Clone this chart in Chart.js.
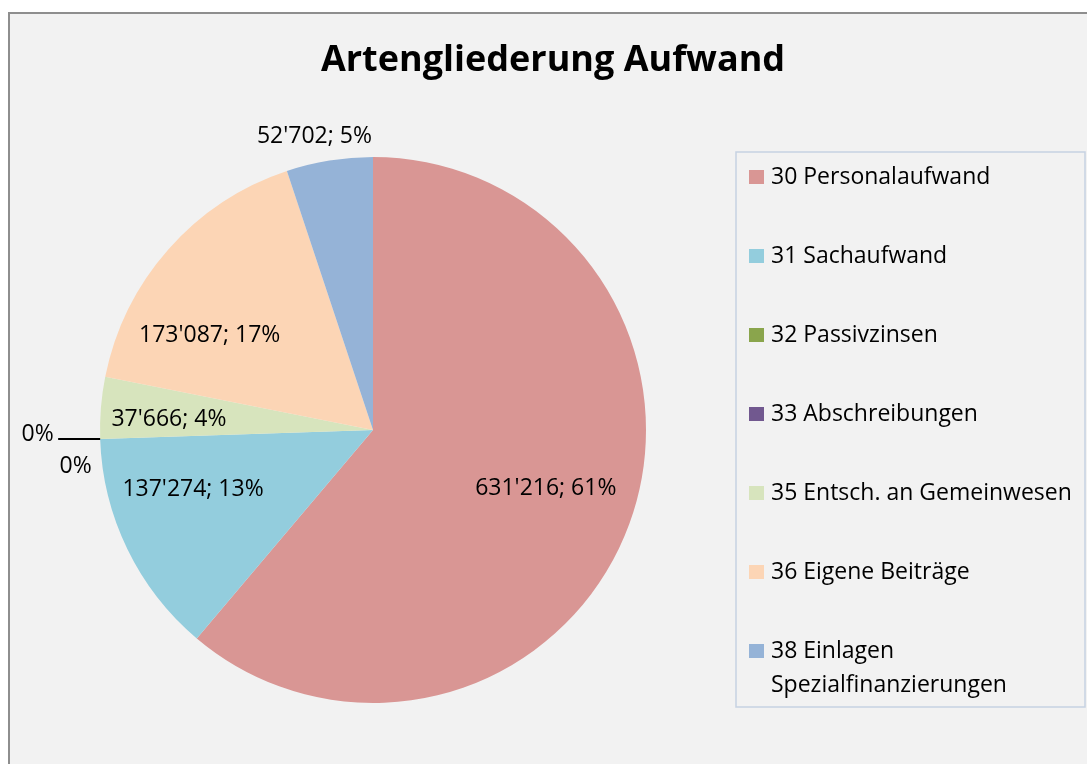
<!DOCTYPE html>
<html>
<head>
<meta charset="utf-8">
<script src="https://cdn.jsdelivr.net/npm/chart.js@4/dist/chart.umd.min.js"></script>
<style>
  html, body { margin: 0; padding: 0; background: #fff; }
  #frame {
    position: absolute; left: 8px; top: 12px; width: 1100px; height: 800px;
    border: 2px solid #8e8e8e; background: #f2f2f2;
  }
  #pie { position: absolute; left: 0; top: 0; }
</style>
</head>
<body>
<div id="frame"></div>
<canvas id="pie" width="1087" height="764"></canvas>
<script>
const title = 'Artengliederung Aufwand';
const categories = ['30 Personalaufwand', '31 Sachaufwand', '32 Passivzinsen', '33 Abschreibungen',
  '35 Entsch. an Gemeinwesen', '36 Eigene Beiträge', '38 Einlagen Spezialfinanzierungen'];
const amounts = [631216, 137274, 0, 0, 37666, 173087, 52702];
const colors = ['#d99694', '#93cddd', '#8aa54c', '#71588f', '#d7e4bd', '#fcd5b5', '#95b3d7'];

// label placement: radial factor, x/y nudge, leader line
const labelPlace = [
  { k: 0.674, dx: 0, dy: -5 },
  { k: 0.70, dx: -8, dy: -24 },
  { k: 1.2, dx: -8, dy: -6, leader: true },
  { k: 1.09, dx: 0, dy: 27 },
  { k: 0.75, dx: 0, dy: 6 },
  { k: 0.70, dx: -20, dy: 32 },
  { k: 1.09, dx: -11, dy: 0 }
];

const FONT = '"Open Sans", sans-serif';

function fmt(v) {
  return String(v).replace(/\B(?=(\d{3})+(?!\d))/g, "'");
}

const labelsPlugin = {
  id: 'sliceLabels',
  afterDatasetsDraw(chart) {
    const ctx = chart.ctx;
    const meta = chart.getDatasetMeta(0);
    const data = chart.data.datasets[0].data;
    const total = data.reduce((s, v) => s + v, 0);
    ctx.save();
    ctx.font = '23px ' + FONT;
    ctx.fillStyle = '#000';
    ctx.textAlign = 'center';
    ctx.textBaseline = 'middle';
    meta.data.forEach((arc, i) => {
      const p = arc.getProps(['x', 'y', 'startAngle', 'endAngle', 'outerRadius'], true);
      const mid = (p.startAngle + p.endAngle) / 2;
      const pl = labelPlace[i];
      const lx = p.x + Math.cos(mid) * p.outerRadius * pl.k + pl.dx;
      const ly = p.y + Math.sin(mid) * p.outerRadius * pl.k + pl.dy;
      const pct = Math.round(data[i] / total * 100) + '%';
      const text = data[i] ? fmt(data[i]) + '; ' + pct : pct;
      ctx.fillText(text, lx, ly);
      if (pl.leader) {
        const ex = p.x + Math.cos(mid) * p.outerRadius;
        const ey = p.y + Math.sin(mid) * p.outerRadius;
        ctx.beginPath();
        ctx.strokeStyle = '#000';
        ctx.lineWidth = 2;
        ctx.moveTo(ex, ey);
        ctx.lineTo(ex - 42, ey);
        ctx.stroke();
      }
    });
    ctx.restore();
  }
};

const titlePlugin = {
  id: 'bigTitle',
  afterDraw(chart) {
    const ctx = chart.ctx;
    ctx.save();
    ctx.font = 'bold 36px ' + FONT;
    ctx.fillStyle = '#000';
    ctx.textAlign = 'center';
    ctx.textBaseline = 'middle';
    ctx.fillText(title, 553, 61);
    ctx.restore();
  }
};

const legendPlugin = {
  id: 'boxLegend',
  afterDraw(chart) {
    const ctx = chart.ctx;
    const box = { x: 736, y: 152, w: 349, h: 555 };
    ctx.save();
    ctx.strokeStyle = '#c6d2e2';
    ctx.lineWidth = 1.5;
    ctx.strokeRect(box.x, box.y, box.w, box.h);
    ctx.font = '23px ' + FONT;
    ctx.textBaseline = 'middle';
    ctx.textAlign = 'left';
    const maxW = box.w - 40;
    chart.data.labels.forEach((lab, i) => {
      const cy = 177 + i * 79;
      ctx.fillStyle = colors[i];
      ctx.fillRect(749, cy - 7, 15, 14);
      ctx.fillStyle = '#000';
      // wrap words if too wide
      const words = lab.split(' ');
      const lines = [];
      let cur = '';
      words.forEach(w => {
        const t = cur ? cur + ' ' + w : w;
        if (ctx.measureText(t).width > maxW && cur) { lines.push(cur); cur = w; }
        else cur = t;
      });
      lines.push(cur);
      lines.forEach((ln, j) => ctx.fillText(ln, 771, cy + j * 34));
    });
    ctx.restore();
  }
};

new Chart(document.getElementById('pie'), {
  type: 'pie',
  data: {
    labels: categories,
    datasets: [{
      data: amounts,
      backgroundColor: colors,
      borderWidth: 0,
      hoverOffset: 0
    }]
  },
  options: {
    responsive: false,
    animation: false,
    devicePixelRatio: 1,
    layout: { padding: { left: 100, right: 441, top: 157, bottom: 61 } },
    plugins: {
      legend: { display: false },
      tooltip: { enabled: false },
      title: { display: false }
    }
  },
  plugins: [labelsPlugin, titlePlugin, legendPlugin]
});
</script>
</body>
</html>
